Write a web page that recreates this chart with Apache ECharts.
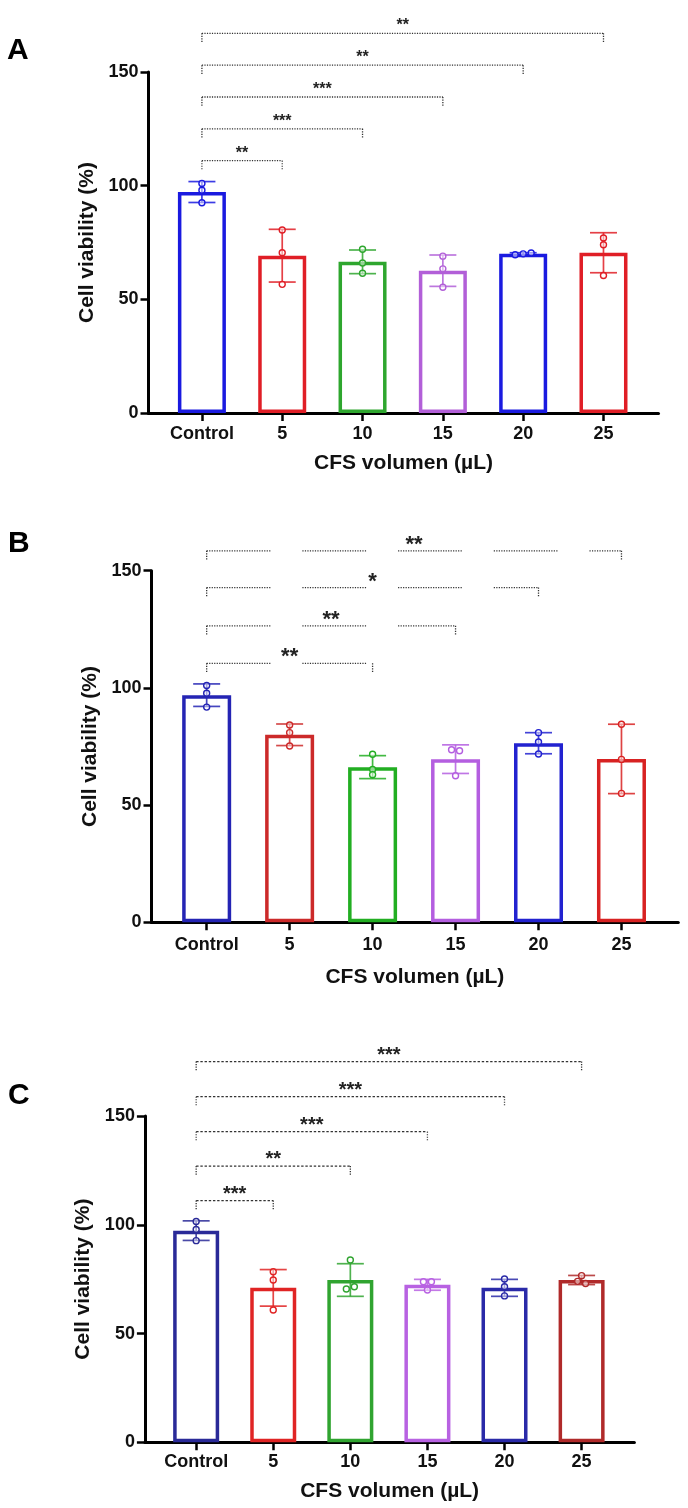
<!DOCTYPE html>
<html>
<head>
<meta charset="utf-8">
<script src="https://cdn.jsdelivr.net/npm/echarts@6/dist/echarts.min.js"></script>
<style>
  html, body { margin: 0; padding: 0; background: #fff; }
  #main { width: 688px; height: 1508px; }
</style>
</head>
<body>
<div id="main"></div>
<script>
"use strict";
// shared
const categories = ["Control", "5", "10", "15", "20", "25"];
const yTicks = [0, 50, 100, 150];
const catIndex = categories.map((c, i) => i);

// Panel A
const meanA = [97.2, 69.2, 66.5, 62.6, 70.0, 70.5];
const sdA = [4.6, 11.6, 5.2, 6.9, 0.5, 8.8];
const pointsA = [[101, 98, 92.5], [80.5, 70.5, 56.6], [72, 66, 61.5], [69, 63.4, 55.3], [69.6, 70, 70.4], [77, 74, 60.5]];
const sigEndA = [1, 2, 3, 4, 5];
const sigHeightA = [111, 125, 139, 153, 167];
const sigLabelA = ["**", "***", "***", "**", "**"];

// Panel B
const meanB = [96.9, 80.0, 66.2, 69.6, 76.4, 69.7];
const sdB = [4.8, 4.6, 4.9, 6.1, 4.5, 14.8];
const pointsB = [[101, 97.7, 91.8], [84.2, 80.9, 75.2], [71.7, 65.2, 63.0], [73.6, 73.2, 62.5], [80.9, 76.9, 71.8], [84.5, 69.5, 55]];
const sigEndB = [5, 4, 3, 2];
const sigHeightB = [158.5, 142.8, 126.5, 110.5];
const sigLabelB = ["**", "*", "**", "**"];

// Panel C
const meanC = [97.3, 71.0, 74.6, 72.4, 71.0, 74.6];
const sdC = [4.5, 8.4, 7.5, 2.5, 3.9, 2.1];
const pointsC = [[101.5, 97.8, 92.7], [78.4, 74.6, 60.8], [83.8, 70.5, 71.5], [73.8, 73.8, 70], [75.1, 71.5, 67.3], [76.6, 74.0, 73.0]];
const sigEndC = [5, 4, 3, 2, 1];
const sigHeightC = [175, 158.9, 142.8, 127, 111.1];
const sigLabelC = ["***", "***", "***", "**", "***"];

const FONT = "Liberation Sans, Arial, sans-serif";

// dotted runs broken by wider gaps (panel B look)
function brokenDots(dots, gap) {
  const d = [];
  for (let i = 0; i < dots; i++) d.push(1.2, 1.3);
  d[d.length - 1] = gap;
  return d;
}

const panels = [
  {
    letter: "A", mean: meanA, sd: sdA, pts: pointsA, sigEnd: sigEndA, sigH: sigHeightA, sigL: sigLabelA,
    grid: { left: 148.5, top: 72, width: 510, height: 341 },
    letterPos: { left: 7, top: 36 },
    colors: ["#1a1ae0", "#e01e26", "#2ea62e", "#b25fd8", "#1a1ae0", "#e01e26"],
    barWidth: 48, starSize: 16, dash: [1.2, 1.3],
    labelMargin: 12, nameGap: 40, yNameGap: 45
  },
  {
    letter: "B", mean: meanB, sd: sdB, pts: pointsB, sigEnd: sigEndB, sigH: sigHeightB, sigL: sigLabelB,
    grid: { left: 151.5, top: 570.7, width: 526.8, height: 351.6 },
    letterPos: { left: 8, top: 529 },
    colors: ["#2424b4", "#cc2a2a", "#22ae22", "#b45ee0", "#2222d0", "#d82222"],
    barWidth: 49, starSize: 22, dash: brokenDots(26, 32),
    labelMargin: 14, nameGap: 44, yNameGap: 47
  },
  {
    letter: "C", mean: meanC, sd: sdC, pts: pointsC, sigEnd: sigEndC, sigH: sigHeightC, sigL: sigLabelC,
    grid: { left: 144.9, top: 1116, width: 489.5, height: 326.3 },
    letterPos: { left: 8, top: 1081 },
    colors: ["#2a2a98", "#e02424", "#30a430", "#b862e2", "#2a2aa8", "#b02a2a"],
    barWidth: 46, starSize: 20, dash: [2.4, 1.8],
    labelMargin: 11, nameGap: 38, yNameGap: 42
  }
];

const option = {
  animation: false,
  backgroundColor: "#fff",
  title: [],
  grid: [],
  xAxis: [],
  yAxis: [],
  series: []
};

panels.forEach((p, g) => {
  option.title.push({
    text: p.letter, left: p.letterPos.left, top: p.letterPos.top, padding: 0,
    textStyle: { fontFamily: FONT, fontSize: 30, fontWeight: "bold", color: "#000" }
  });
  option.grid.push(Object.assign({ containLabel: false }, p.grid));
  option.xAxis.push({
    gridIndex: g, type: "value", min: -0.665, max: 5.685,
    splitLine: { show: false },
    axisLine: { onZero: false, lineStyle: { color: "#000", width: 3 } },
    axisTick: { customValues: catIndex, length: 8, lineStyle: { color: "#000", width: 2.5 } },
    axisLabel: {
      customValues: catIndex, formatter: v => categories[Math.round(v)],
      margin: p.labelMargin, color: "#111", fontFamily: FONT, fontSize: 18, fontWeight: "bold"
    },
    name: "CFS volumen (µL)", nameLocation: "middle", nameGap: p.nameGap,
    nameTextStyle: { fontFamily: FONT, fontSize: 21, fontWeight: "bold", color: "#111" }
  });
  option.yAxis.push({
    gridIndex: g, type: "value", min: yTicks[0], max: yTicks[yTicks.length - 1], interval: yTicks[1] - yTicks[0],
    splitLine: { show: false },
    axisLine: { show: true, onZero: false, lineStyle: { color: "#000", width: 3 } },
    axisTick: { show: true, length: 8, lineStyle: { color: "#000", width: 2.5 } },
    axisLabel: { margin: 10, color: "#111", fontFamily: FONT, fontSize: 18, fontWeight: "bold" },
    name: "Cell viability (%)", nameLocation: "middle", nameGap: p.yNameGap,
    nameTextStyle: { fontFamily: FONT, fontSize: 21, fontWeight: "bold", color: "#111" }
  });

  // bars
  option.series.push({
    type: "bar", xAxisIndex: g, yAxisIndex: g, barWidth: p.barWidth, z: 2,
    data: p.mean.map((m, i) => ({
      value: [i, m],
      itemStyle: { color: "rgba(255,255,255,0)", borderColor: p.colors[i], borderWidth: 3.5 }
    }))
  });

  // error bars (SD)
  option.series.push({
    type: "custom", xAxisIndex: g, yAxisIndex: g, z: 3,
    data: p.mean.map((m, i) => [i, m, p.sd[i]]),
    renderItem: (params, api) => {
      const i = api.value(0), m = api.value(1), s = api.value(2);
      const top = api.coord([i, m + s]);
      const bot = api.coord([i, m - s]);
      const col = p.colors[i];
      const st = { stroke: col, lineWidth: 1.7, opacity: 0.85 };
      return {
        type: "group",
        children: [
          { type: "line", shape: { x1: top[0], y1: top[1], x2: bot[0], y2: bot[1] }, style: st },
          { type: "line", shape: { x1: top[0] - 13.5, y1: top[1], x2: top[0] + 13.5, y2: top[1] }, style: st },
          { type: "line", shape: { x1: bot[0] - 13.5, y1: bot[1], x2: bot[0] + 13.5, y2: bot[1] }, style: st }
        ]
      };
    }
  });

  // replicate points
  const flat = [];
  p.pts.forEach((arr, i) => arr.forEach((v, k) => flat.push([i, v, k])));
  option.series.push({
    type: "custom", xAxisIndex: g, yAxisIndex: g, z: 4,
    data: flat,
    renderItem: (params, api) => {
      const i = api.value(0), v = api.value(1), k = api.value(2);
      const grp = p.pts[i];
      const cluster = grp.map((w, j) => j).filter(j => Math.abs(grp[j] - v) < 1.3);
      const off = (cluster.indexOf(k) - (cluster.length - 1) / 2) * 8;
      const c = api.coord([i, v]);
      return {
        type: "circle",
        shape: { cx: c[0] + off, cy: c[1], r: 3 },
        style: { fill: "rgba(255,255,255,0.5)", stroke: p.colors[i], lineWidth: 1.4 }
      };
    }
  });

  // significance brackets
  option.series.push({
    type: "custom", xAxisIndex: g, yAxisIndex: g, z: 5, clip: false,
    data: p.sigEnd.map((e, j) => [0, e, p.sigH[j], j]),
    renderItem: (params, api) => {
      const a = api.value(0), b = api.value(1), h = api.value(2), j = api.value(3);
      const p0 = api.coord([a, h]);
      const p1 = api.coord([b, h]);
      const st = { stroke: "#333", lineWidth: 1.3, lineDash: p.dash };
      const tick = { stroke: "#333", lineWidth: 1.3, lineDash: [1.2, 1.3] };
      return {
        type: "group",
        children: [
          { type: "line", shape: { x1: p0[0], y1: p0[1], x2: p1[0], y2: p1[1] }, style: st },
          { type: "line", shape: { x1: p0[0], y1: p0[1], x2: p0[0], y2: p0[1] + 9 }, style: tick },
          { type: "line", shape: { x1: p1[0], y1: p1[1], x2: p1[0], y2: p1[1] + 9 }, style: tick },
          {
            type: "text",
            style: {
              x: (p0[0] + p1[0]) / 2, y: p0[1] - 11 + 0.23 * p.starSize,
              text: p.sigL[j], align: "center", verticalAlign: "middle",
              fontFamily: FONT, fontSize: p.starSize, fontWeight: "bold", fill: "#222"
            }
          }
        ]
      };
    }
  });
});

const chart = echarts.init(document.getElementById("main"), null, { renderer: "canvas" });
chart.setOption(option);
</script>
</body>
</html>
